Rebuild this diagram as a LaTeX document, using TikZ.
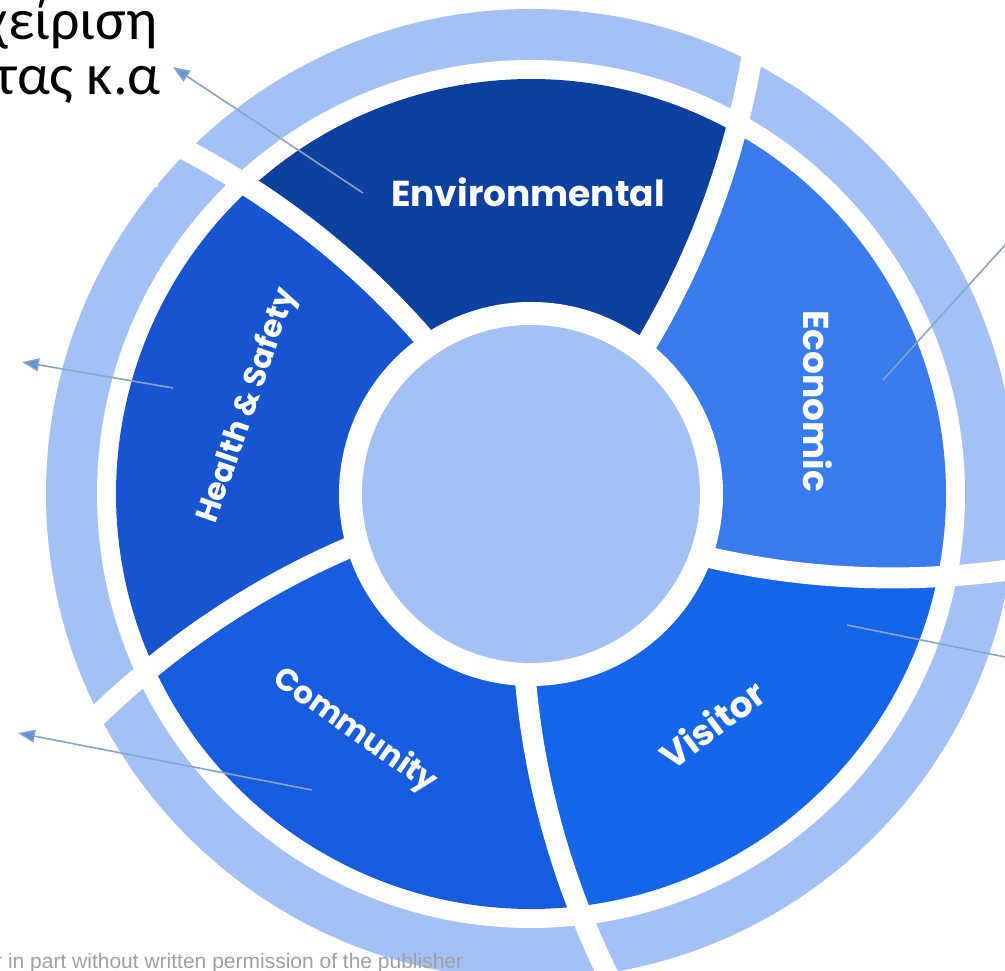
\documentclass[tikz,border=0pt]{standalone}
\usepackage{fontspec}
\setmainfont{Carlito}
\newfontfamily\labelfont{Poppins}
\newfontfamily\notefont{Liberation Sans}
\usetikzlibrary{arrows.meta}
\definecolor{ringblue}{HTML}{A4C1F6}
\definecolor{envblue}{HTML}{0D3F9E}
\definecolor{econblue}{HTML}{387BED}
\definecolor{visblue}{HTML}{1565E9}
\definecolor{commblue}{HTML}{165CDD}
\definecolor{healthblue}{HTML}{1654D0}
\definecolor{arrowline}{HTML}{8AA3C8}
\definecolor{arrowhead}{HTML}{5B96D8}
\definecolor{notegray}{HTML}{A0A0A0}
\tikzset{
  seglabel/.style={text=white, font=\labelfont\bfseries\fontsize{36}{36}\selectfont, inner sep=0pt},
  smalllabel/.style={seglabel, font=\labelfont\bfseries\fontsize{31}{31}\selectfont},
  pointer/.style={draw=arrowline, line width=1.6pt, -{Triangle[length=17pt,width=13pt,fill=arrowhead]}},
  greek/.style={font=\fontsize{58}{58}\selectfont, text=black, inner sep=0pt, anchor=base east},
}
\begin{document}
\begin{tikzpicture}[x=1pt,y=1pt]
\useasboundingbox (0,0) rectangle (1005,971);
\clip (0,0) rectangle (1005,971);
\fill[white] (0,0) rectangle (1005,971);
\begin{scope}[shift={(531,477)}]
  % outer ring
  \fill[ringblue] (0,0) circle[radius=485];
  \fill[white] (0,0) circle[radius=434];
  % segments
  \foreach \a/\col in {52.5/envblue, 124.5/healthblue, 196.5/commblue, 268.5/visblue, 340.5/econblue}{
    \fill[\col] (0,0) -- plot[domain=0:415, samples=30, variable=\r] ({\a+0.03587*(\r-192)}:{\r})
      arc[start angle={\a+8}, end angle={\a+80}, radius=415]
      -- plot[domain=415:0, samples=30, variable=\r] ({\a+72+0.03587*(\r-192)}:{\r}) -- cycle;
  }
  % inner circle
  \fill[white] (0,0) circle[radius=192];
  \fill[ringblue] (0,0) circle[radius=169];
  % spiral dividers
  \foreach \a in {52.5,124.5,196.5,268.5,340.5}{
    \draw[white, line width=21pt] plot[domain=178:500, samples=40, variable=\r] ({\a+0.03587*(\r-192)}:{\r});
  }
\end{scope}
% segment labels
\node[seglabel] (env) at (528,779) {Environmental};
\node[seglabel, rotate=-90] (eco) at (818,570) {Economic};
\node[seglabel, rotate=37] (vis) at (712,247) {Visitor};
\node[smalllabel, rotate=-35] (com) at (355,240) {Community};
\node[smalllabel, rotate=71] (hs) at (248,565) {Health \& Safety};
% text box top-left
\fill[white] (0,784) rectangle (158,971);
\node[greek] (g1) at (158,931) {χείριση};
\node[greek] (g2) at (161,876) {τας κ.α};
% bottom note
\node[font=\notefont\fontsize{21}{21}\selectfont, text=notegray, anchor=base west, inner sep=0pt] (note) at (-5,2) {r in part without written permission of the publisher};
% pointers
\coordinate (t1) at (363,778); \coordinate (h1) at (173,904);
\coordinate (t2) at (883,591); \coordinate (h2) at (1025,748);
\coordinate (t3) at (847,346); \coordinate (h3) at (1030,309);
\coordinate (t4) at (173,583); \coordinate (h4) at (22,609);
\coordinate (t5) at (312,181); \coordinate (h5) at (18,238);
\foreach \i in {1,...,5} \draw[pointer] (t\i) -- (h\i);
\end{tikzpicture}
\end{document}
